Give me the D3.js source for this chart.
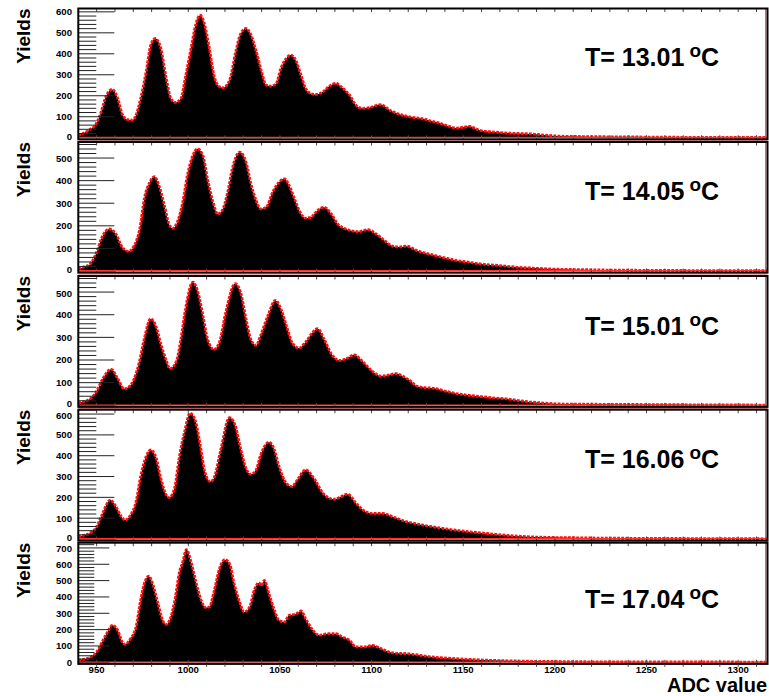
<!DOCTYPE html>
<html><head><meta charset="utf-8">
<script src="https://cdn.jsdelivr.net/npm/d3@7"></script>
<style>
body{margin:0;background:#fff}
svg{display:block;font-family:"Liberation Sans",Arial,Helvetica,sans-serif;font-weight:bold}
</style>
</head><body>
<svg id="chart" width="769" height="696"></svg>
<script>
// ---------------- data ----------------
const temperatures = ["13.01", "14.05", "15.01", "16.06", "17.04"];

const adc1 = [940,943,946,950,952.5,955,958.5,961.5,964,967,969.5,971.5,974,977,979.5,982,985,988,990.5,993,996,998.5,1001.5,1004,1006.5,1008.5,1011.5,1014,1017,1019,1022.5,1026,1028.5,1031.5,1034,1037,1040,1042.5,1045,1048,1050.5,1053.5,1056,1059,1061.5,1064,1067,1069.5,1073.5,1077,1080.5,1084,1088,1091.5,1095,1099,1105,1110,1113,1119,1124,1128,1133,1137,1142,1146,1150,1153.5,1157,1160,1167,1174,1180,1187,1195,1201,1210,1219,1235,1250,1270,1290,1316];
const yields1 = [10,22,37,70,124,195,230,187,112,86,84,108,187,314,441,473,426,283,187,168,187,291,426,537,584,552,426,298,243,238,274,414,494,521,494,414,314,251,246,259,330,378,394,362,298,235,210,206,219,246,259,238,203,155,140,144,158,131,119,103,95,90,78,70,55,46,50,54,42,33,27,22,20,18,12,8,6,5,4,3,2,2,1];

const adc2 = [940,943,946,950,952.5,957,960.5,964,967.5,970.5,973.5,976,979,981.5,984,987,989.5,991.5,994,997,999.5,1002.5,1005,1008,1010.5,1013.5,1016,1018.5,1021.5,1024,1028,1031.5,1034,1037,1039.5,1042.5,1046,1049.5,1052.5,1055,1058,1060.5,1064,1067,1070.5,1074,1078,1081.5,1085,1089,1092.5,1098,1102.5,1107,1111.5,1115,1119,1124.5,1129,1134,1140,1146,1152,1157,1163,1170,1176,1183,1190,1201,1215,1230,1250,1275,1316];
const yields2 = [10,18,27,83,142,186,164,105,87,112,186,319,393,418,379,289,208,189,216,305,423,511,541,511,408,305,253,268,349,452,526,482,393,312,275,282,349,393,408,379,319,268,234,238,268,282,253,208,189,178,174,183,164,135,110,106,110,91,80,70,58,47,40,34,28,24,19,15,12,8,6,4,3,2,1];

const adc3 = [940,943,946,950,953.5,958,961.5,965,968,970.5,973.5,976,979.5,982.5,985,988,990,993.5,996,998.5,1002.5,1005,1008,1010.5,1014,1017,1020.5,1025.5,1028.5,1031.5,1034,1037,1039.5,1043.5,1047.5,1050.5,1053.5,1057,1060.5,1064,1068,1070.5,1074,1078,1082.5,1087,1090.5,1095,1100.5,1105,1108.5,1113.5,1116,1119,1121,1124.5,1129,1134,1140,1146,1152,1159,1166,1174,1180,1186,1194,1201,1215,1235,1255,1280,1316];
const yields3 = [10,17,26,62,120,159,118,73,84,118,198,294,382,346,272,198,162,194,294,426,544,507,397,294,247,279,412,537,500,382,294,265,309,397,463,426,353,272,253,279,323,338,294,228,198,209,223,194,150,129,132,140,133,119,109,85,78,75,63,52,45,39,33,28,21,15,10,6,5,4,3,2,1];

const adc4 = [940,943,946,950,952.5,957.5,960.5,963.5,965.5,968.5,971.5,974,977,979.5,982.5,985,988,989.5,992.5,995,998,1001,1004,1006.5,1009,1012,1014,1017.5,1022.5,1025.5,1028.5,1031.5,1034,1037,1039.5,1044,1047,1049.5,1053.5,1056.5,1059.5,1064,1068.5,1073.5,1077,1079.5,1083.5,1087,1091.5,1096,1100.5,1106,1111.5,1119,1125,1131,1138,1146,1153,1160,1168,1176,1185,1195,1210,1230,1255,1280,1316];
const yields4 = [10,18,27,59,107,187,156,107,91,115,179,300,396,428,388,292,212,199,244,388,516,604,564,452,324,276,292,420,583,548,436,340,311,332,404,465,428,348,268,252,284,332,292,220,196,191,204,215,172,135,123,123,107,83,72,62,52,42,35,29,22,16,11,8,6,4,3,2,1];

const adc5 = [940,943,946,950,953.5,956,958.5,961.5,964,965.5,968.5,971.5,974,976,978.5,980.5,983.5,986,988,990.5,993,995,997,999,1001.5,1004,1007,1009.5,1011.5,1014,1017,1020,1022.5,1025,1028,1030.5,1033.5,1036,1038.5,1040,1041.5,1044,1047,1049.5,1052.5,1055,1058.5,1061.5,1064,1068,1071.5,1076,1080.5,1084,1088,1091.5,1096,1100.5,1105,1109.5,1114,1119,1125,1131,1138,1146,1155,1165,1175,1188,1200,1220,1250,1280,1316];
const yields5 = [12,18,28,63,135,186,226,196,124,110,145,216,380,482,527,482,359,257,232,278,400,543,614,690,614,502,380,335,339,431,573,628,604,482,369,308,339,441,486,470,502,420,318,257,247,288,294,314,267,196,165,175,175,155,135,94,94,104,84,63,55,53,45,35,28,22,17,12,9,6,5,3,2,2,1];

const xTickLabels = [950, 1000, 1050, 1100, 1150, 1200, 1250, 1300];
const yLabelMax = [600, 500, 500, 600, 700];
const yAxisMax = [616, 571, 571, 621, 732];
const xDomain = [940, 1316];

// ---------------- layout ----------------
const panelTop  = [8.5, 142, 276, 409.7, 542.7];
const panelZero = [137.7, 271, 405.3, 539, 662.3];
const labelBase = [66, 200, 334.5, 468, 608];
const majorLen  = [36, 36, 36, 36, 31];
const minorLen  = [18, 18, 18, 18, 16];
const xL = 78.3, xR = 767.5;

const svg = d3.select("#chart");
const x = d3.scaleLinear().domain(xDomain).range([xL, xR]);

const adcs = [adc1, adc2, adc3, adc4, adc5];
const yss = [yields1, yields2, yields3, yields4, yields5];

for (let p = 0; p < 5; p++) {
  const top = panelTop[p], zero = panelZero[p];
  const y = d3.scaleLinear().domain([0, yAxisMax[p]]).range([zero, top]);
  const data = d3.zip(adcs[p], yss[p]);
  const g = svg.append("g");

  // histogram body
  const area = d3.area().x(d => x(d[0])).y0(zero).y1(d => y(d[1])).curve(d3.curveMonotoneX);
  g.append("path").datum(data).attr("d", area).attr("fill", "#000");

  // red markers along top
  const line = d3.line().x(d => x(d[0])).y(d => y(d[1])).curve(d3.curveMonotoneX);
  g.append("path").datum(data).attr("d", line).attr("fill", "none")
    .attr("stroke", "#ff1010").attr("stroke-width", 2.8).attr("stroke-dasharray", "2.8,1.3");

  // y ticks
  const minorVals = d3.range(0, yAxisMax[p] + 0.01, 20);
  g.selectAll(".ymin").data(minorVals).enter().append("line")
    .attr("x1", xL).attr("x2", d => xL + (d % 100 === 0 ? majorLen[p] : minorLen[p]))
    .attr("y1", d => y(d)).attr("y2", d => y(d))
    .attr("stroke", "#222").attr("stroke-width", 1);
  const majorVals = d3.range(0, yLabelMax[p] + 1, 100);
  g.selectAll(".ylab").data(majorVals).enter().append("text")
    .attr("x", 72)
    .attr("y", d => y(d) + (d === 0 && p < 4 ? -1.5 : 0) + (d === yLabelMax[p] && p > 0 ? 1 : 0))
    .attr("dy", "0.36em")
    .attr("text-anchor", "end").attr("font-size", 9.6).text(d => d);

  // x ticks (small) at bottom and top
  const xt = d3.range(950, 1316, 10);
  g.selectAll(".xtb").data(xt).enter().append("line")
    .attr("x1", d => x(d)).attr("x2", d => x(d))
    .attr("y1", zero + 1).attr("y2", zero - 2.5)
    .attr("stroke", "#444").attr("stroke-width", 1);
  g.selectAll(".xtt").data(xt).enter().append("line")
    .attr("x1", d => x(d)).attr("x2", d => x(d))
    .attr("y1", top).attr("y2", top + 3.5)
    .attr("stroke", "#444").attr("stroke-width", 1);

  // red baseline & right edge
  g.append("line").attr("x1", xL).attr("x2", xR - 1.5).attr("y1", zero - 0.3).attr("y2", zero - 0.3)
    .attr("stroke", "#ff3030").attr("stroke-width", 1.2);
  g.append("line").attr("x1", xR - 1.8).attr("x2", xR - 1.8).attr("y1", top).attr("y2", zero + 1)
    .attr("stroke", "#ff3030").attr("stroke-width", 1);
  if (p < 4) {
    g.append("line").attr("x1", xL).attr("x2", xR).attr("y1", zero + 3.2).attr("y2", zero + 3.2)
      .attr("stroke", "#f08a8a").attr("stroke-width", 1.3);
  }

  // frame
  g.append("rect").attr("x", xL).attr("y", top).attr("width", xR - xL).attr("height", zero + 1.6 - top)
    .attr("fill", "none").attr("stroke", "#000").attr("stroke-width", 2);

  // Y title
  g.append("text").attr("transform", `translate(29.5,${top}) rotate(-90)`)
    .attr("text-anchor", "end").attr("font-size", 19).text("Yields");

  // temperature label
  const t = g.append("text").attr("x", 585).attr("y", labelBase[p]).attr("font-size", 25);
  t.append("tspan").text(`T= ${temperatures[p]}`);
  t.append("tspan").attr("font-size", 19).attr("dx", 5).attr("dy", -9).text("o");
  t.append("tspan").attr("dy", 9).text("C");
}

// bottom axis labels
const zb = panelZero[4];
svg.append("g").selectAll("line").data(d3.range(950, 1316, 10)).enter().append("line")
  .attr("x1", d => x(d)).attr("x2", d => x(d)).attr("y1", zb + 2).attr("y2", zb + 4.5)
  .attr("stroke", "#444").attr("stroke-width", 1);
svg.append("g").selectAll("text").data(xTickLabels).enter().append("text")
  .attr("x", d => x(d)).attr("y", 673).attr("text-anchor", "middle")
  .attr("font-size", 9.6).text(d => d);
svg.append("text").attr("x", 767).attr("y", 691.5).attr("text-anchor", "end")
  .attr("font-size", 20).text("ADC value");
</script>
</body></html>
